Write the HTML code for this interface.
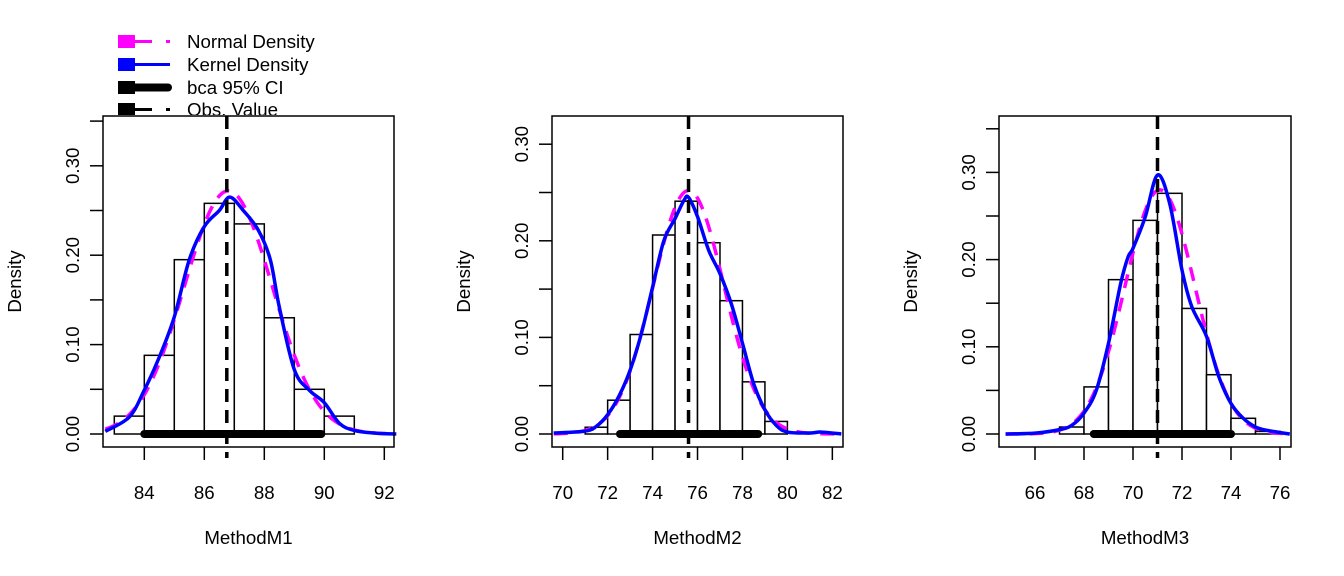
<!DOCTYPE html>
<html><head><meta charset="utf-8"><style>
html,body{margin:0;padding:0;background:#fff;}
svg{display:block;font-family:"Liberation Sans",Arial,sans-serif;}
</style></head><body>
<svg id="chart" width="1344" height="576" viewBox="0 0 1344 576">
<defs><clipPath id="legclip"><rect x="0" y="0" width="400" height="115"/></clipPath></defs>
<g id="legend" clip-path="url(#legclip)">
  <g>
    <rect x="118" y="35" width="17" height="13" fill="#ff00ff"/>
    <line x1="135" y1="41.5" x2="152" y2="41.5" stroke="#ff00ff" stroke-width="3"/>
    <line x1="166" y1="41.5" x2="170" y2="41.5" stroke="#ff00ff" stroke-width="3"/>
    <text x="187" y="48" font-size="18.7">Normal Density</text>
  </g>
  <g>
    <rect x="118" y="58" width="17" height="13" fill="#0000ff"/>
    <line x1="135" y1="64.5" x2="170" y2="64.5" stroke="#0000ff" stroke-width="3"/>
    <text x="187" y="71" font-size="18.7">Kernel Density</text>
  </g>
  <g>
    <rect x="118" y="81" width="17" height="13" fill="#000"/>
    <line x1="135" y1="87.5" x2="168" y2="87.5" stroke="#000" stroke-width="8" stroke-linecap="round"/>
    <text x="187" y="94" font-size="18.7">bca 95% CI</text>
  </g>
  <g>
    <rect x="118" y="103" width="17" height="13" fill="#000"/>
    <line x1="135" y1="109.5" x2="152" y2="109.5" stroke="#000" stroke-width="3"/>
    <line x1="166" y1="109.5" x2="170" y2="109.5" stroke="#000" stroke-width="3"/>
    <text x="187" y="116" font-size="18.7">Obs. Value</text>
  </g>
</g>
</svg>
<script>
// ---- Panel 1 data ----
const p1Title = "MethodM1";
const p1BinStarts = [83,84,85,86,87,88,89,90];
const p1Heights = [0.02,0.088,0.195,0.258,0.235,0.13,0.05,0.02];
const p1XTicks = [84,86,88,90,92];
const p1YTicks = [0,0.05,0.10,0.15,0.20,0.25,0.30,0.35];
const p1YLabels = ["0.00","","0.10","","0.20","","0.30",""];
const p1Mean = 86.8, p1Sd = 1.467;
const p1Obs = 86.75;
const p1CI = [84.0, 89.9];
const p1KX = [82.7,83.5,84,84.5,85,85.5,86,86.5,86.85,87.3,87.8,88.2,88.5,89,89.5,90,90.5,91,91.7,92.4];
const p1KY = [0.003,0.019,0.049,0.086,0.131,0.195,0.232,0.25,0.265,0.25,0.228,0.195,0.142,0.072,0.049,0.035,0.012,0.004,0.001,0.0];
// ---- Panel 2 data ----
const p2Title = "MethodM2";
const p2BinStarts = [71,72,73,74,75,76,77,78,79];
const p2Heights = [0.007,0.035,0.103,0.206,0.241,0.198,0.138,0.054,0.013];
const p2XTicks = [70,72,74,76,78,80,82];
const p2YTicks = [0,0.05,0.10,0.15,0.20,0.25,0.30];
const p2YLabels = ["0.00","","0.10","","0.20","","0.30"];
const p2Mean = 75.6, p2Sd = 1.583;
const p2Obs = 75.6;
const p2CI = [72.55, 78.7];
const p2KX = [69.6,71,71.5,72,72.5,73,73.5,74,74.5,75,75.4,75.6,76,76.5,77,77.5,78,78.5,79,79.5,80,81,81.5,82.4];
const p2KY = [0.001,0.003,0.008,0.02,0.039,0.066,0.104,0.152,0.2,0.223,0.242,0.245,0.225,0.19,0.166,0.135,0.094,0.052,0.025,0.009,0.002,0.001,0.002,0.0];
// ---- Panel 3 data ----
const p3Title = "MethodM3";
const p3BinStarts = [67,68,69,70,71,72,73,74,75];
const p3Heights = [0.008,0.054,0.177,0.245,0.276,0.144,0.068,0.018,0.003];
const p3XTicks = [66,68,70,72,74,76];
const p3YTicks = [0,0.05,0.10,0.15,0.20,0.25,0.30,0.35];
const p3YLabels = ["0.00","","0.10","","0.20","","0.30",""];
const p3Mean = 71.1, p3Sd = 1.425;
const p3Obs = 71.0;
const p3CI = [68.4, 74.0];
const p3KX = [64.8,66,67,67.5,68,68.5,69,69.5,69.8,70,70.5,71,71.5,72,72.4,73,73.5,74,74.5,75,75.5,76.4];
const p3KY = [0.0,0.001,0.005,0.01,0.024,0.05,0.104,0.173,0.203,0.213,0.249,0.297,0.264,0.188,0.146,0.112,0.066,0.035,0.018,0.008,0.004,0.0];

const NS = "http://www.w3.org/2000/svg";
const svg = document.getElementById("chart");
const FS = 18.7;
function mk(tag, attrs, parent){const e=document.createElementNS(NS,tag);for(const k in attrs)e.setAttribute(k,attrs[k]);(parent||svg).appendChild(e);return e;}
function smooth(pts){
  let d="M"+pts[0][0]+","+pts[0][1];
  for(let i=0;i<pts.length-1;i++){
    const p0=pts[Math.max(0,i-1)],p1=pts[i],p2=pts[i+1],p3=pts[Math.min(pts.length-1,i+2)];
    const c1=[p1[0]+(p2[0]-p0[0])/6,p1[1]+(p2[1]-p0[1])/6];
    const c2=[p2[0]-(p3[0]-p1[0])/6,p2[1]-(p3[1]-p1[1])/6];
    d+=" C"+c1[0].toFixed(2)+","+c1[1].toFixed(2)+" "+c2[0].toFixed(2)+","+c2[1].toFixed(2)+" "+p2[0].toFixed(2)+","+p2[1].toFixed(2);
  }
  return d;
}
function panel(cfg){
  const g=mk("g",{});
  
  
  const X=v=>cfg.x0px+(v-cfg.x0v)*cfg.xs;
  const Y=v=>cfg.y0px-v*cfg.ys;
  cfg.bins.forEach((b,i)=>{
    const r=mk("rect",{x:X(b),y:Y(cfg.h[i]),width:X(b+1)-X(b),height:Y(0)-Y(cfg.h[i]),fill:"#fff",stroke:"#000","stroke-width":1.5},g);
    
    
  });
  const npts=[];
  for(let v=cfg.xmin;v<=cfg.xmax+0.001;v+=(cfg.xmax-cfg.xmin)/120){
    npts.push([X(v),Y(Math.exp(-0.5*((v-cfg.mean)/cfg.sd)**2)/(cfg.sd*Math.sqrt(2*Math.PI)))]);
  }
  const np=mk("path",{d:smooth(npts),fill:"none",stroke:"#ff00ff","stroke-width":3.5,"stroke-dasharray":"14 10"},g);
  
  
  const kp=mk("path",{d:smooth(cfg.kx.map((v,i)=>[X(v),Y(cfg.ky[i])])),fill:"none",stroke:"#0000ff","stroke-width":3.5},g);
  
  
  const ci=mk("line",{x1:X(cfg.ci[0]),y1:Y(0),x2:X(cfg.ci[1]),y2:Y(0),stroke:"#000","stroke-width":8,"stroke-linecap":"round"},g);
  
  
  const ob=mk("line",{x1:X(cfg.obs),y1:cfg.top,x2:X(cfg.obs),y2:cfg.bottom+11,stroke:"#000","stroke-width":3.5,"stroke-dasharray":"13 8"},g);
  
  
  const bx=mk("rect",{x:cfg.left,y:cfg.top,width:cfg.right-cfg.left,height:cfg.bottom-cfg.top,fill:"none",stroke:"#000","stroke-width":1.5},g);
  
  
  cfg.xt.forEach(t=>{
    mk("line",{x1:X(t),y1:cfg.bottom,x2:X(t),y2:cfg.bottom+13,stroke:"#000","stroke-width":1.5},g);
    const tx=mk("text",{x:X(t),y:499,"font-size":FS,"text-anchor":"middle"},g);
    tx.textContent=t;
    
    
  });
  cfg.yt.forEach((t,i)=>{
    mk("line",{x1:cfg.left,y1:Y(t),x2:cfg.left-13,y2:Y(t),stroke:"#000","stroke-width":1.5},g);
    if(cfg.yl[i]){
      const tx=mk("text",{x:0,y:0,"font-size":FS,"text-anchor":"middle",transform:"translate("+(cfg.left-24)+","+Y(t)+") rotate(-90)"},g);
      tx.textContent=cfg.yl[i];
      
      
    }
  });
  const xt=mk("text",{x:(cfg.left+cfg.right)/2,y:544,"font-size":FS,"text-anchor":"middle"},g);
  xt.textContent=cfg.title;
  
  
  const yt=mk("text",{x:0,y:0,"font-size":FS,"text-anchor":"middle",transform:"translate("+(cfg.left-82)+","+((cfg.top+cfg.bottom)/2)+") rotate(-90)"},g);
  yt.textContent="Density";
  
  
}
panel({title:p1Title,bins:p1BinStarts,h:p1Heights,xt:p1XTicks,yt:p1YTicks,yl:p1YLabels,mean:p1Mean,sd:p1Sd,obs:p1Obs,ci:p1CI,kx:p1KX,ky:p1KY,
  left:103,right:394,top:116,bottom:447,x0px:144.3,x0v:84,xs:30,y0px:434,ys:894,xmin:82.7,xmax:92.4});
panel({title:p2Title,bins:p2BinStarts,h:p2Heights,xt:p2XTicks,yt:p2YTicks,yl:p2YLabels,mean:p2Mean,sd:p2Sd,obs:p2Obs,ci:p2CI,kx:p2KX,ky:p2KY,
  left:552,right:843,top:116,bottom:447,x0px:562.7,x0v:70,xs:22.47,y0px:434,ys:966,xmin:69.6,xmax:82.4});
panel({title:p3Title,bins:p3BinStarts,h:p3Heights,xt:p3XTicks,yt:p3YTicks,yl:p3YLabels,mean:p3Mean,sd:p3Sd,obs:p3Obs,ci:p3CI,kx:p3KX,ky:p3KY,
  left:999,right:1291,top:116,bottom:447,x0px:1035,x0v:66,xs:24.5,y0px:434,ys:872,xmin:64.8,xmax:76.4});
</script>
</body></html>
